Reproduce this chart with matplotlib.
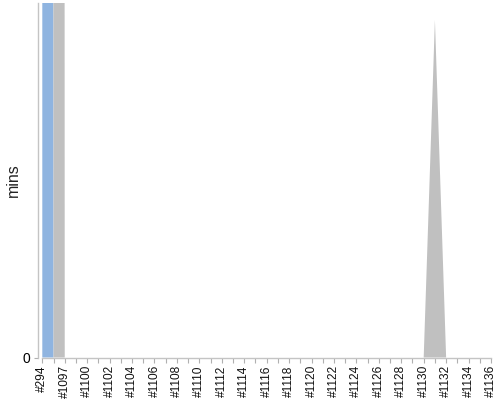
import matplotlib
matplotlib.use("Agg")
import matplotlib.pyplot as plt
import numpy as np

plt.rcParams['font.family'] = ['Liberation Sans', 'DejaVu Sans']

builds = ["#294", "#1096", "#1097", "#1099"] + ["#%d" % n for n in range(1100, 1137)]
blue_mins = [3000, 0] + [0] * 39
gray_mins = [3000, 3000] + [0] * 39
gray_mins[builds.index("#1131")] = 30

x = np.arange(len(builds))
blue = np.array(blue_mins, dtype=float)
gray = np.array(gray_mins, dtype=float)

W, H = 500, 400
fig = plt.figure(figsize=(W / 100, H / 100), dpi=100)
left, right, top, bottom = 42.3, 491.0, 3.0, 357.5
ax = fig.add_axes([left / W, (H - bottom) / H, (right - left) / W, (bottom - top) / H])

ax.fill_between(x, 0, blue, color="#8fb4e0", linewidth=0)
ax.fill_between(x, blue, blue + gray, color="#c0c0c0", linewidth=0)

ax.set_xlim(0, len(builds) - 1)
ax.set_ylim(0, 31.5)

ax.set_xticks(x)
ax.set_xticklabels([b if i % 2 == 0 else "" for i, b in enumerate(builds)],
                   rotation=90, fontsize=8.6, color="#111111")
ax.tick_params(axis="x", length=3.5, width=0.8, color="#b0b0b0", pad=2)

ax.set_yticks([0])
ax.set_yticklabels(["0"], fontsize=9.5, color="#555555")
ax.tick_params(axis="y", length=3, width=0.8, color="#b0b0b0", pad=3)
ax.set_ylabel("mins", fontsize=11.5, color="#222222")
ax.yaxis.set_label_coords((21 - left) / (right - left), 0.5)

for s in ["top", "right"]:
    ax.spines[s].set_visible(False)
ax.spines["left"].set_position(("outward", 3))
ax.spines["left"].set_color("#c4c4c4")
ax.spines["bottom"].set_color("#c4c4c4")
ax.spines["left"].set_linewidth(1.0)
ax.spines["bottom"].set_linewidth(1.0)

fig.savefig("out.png", dpi=100)
